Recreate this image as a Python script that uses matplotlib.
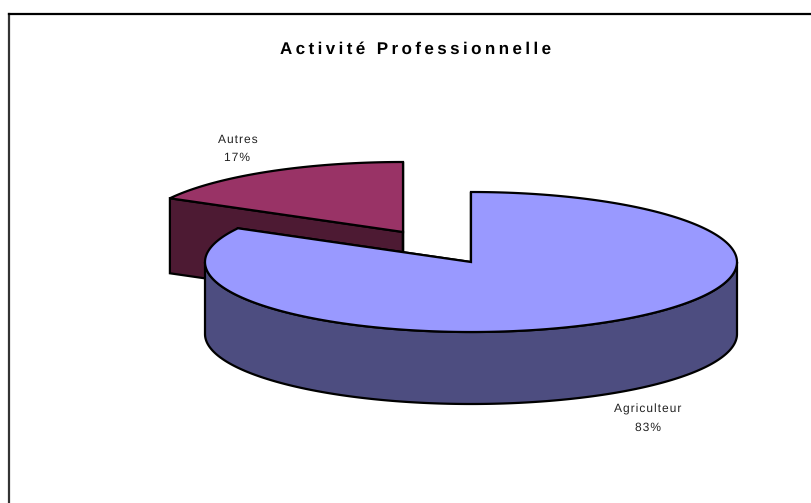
import matplotlib
matplotlib.use('Agg')
import matplotlib.pyplot as plt
from matplotlib.patches import Polygon
import numpy as np

plt.rcParams['text.hinting'] = 'none'
plt.rcParams['text.hinting_factor'] = 1

labels = ['Agriculteur', 'Autres']
values = [83, 17]
percents = ['83%', '17%']
title = 'Activité Professionnelle'

colors_top = ['#9999ff', '#993366']
colors_side = ['#4d4d80', '#4d1a33']

W, H = 811, 503
RX, RY = 266, 70
depths = [72, 75]
# apex of each slice, in pixels
centers = [(471, 262), (403, 232)]


def arc_points(cx, cy, start, end):
    # angles are clockwise from 12 o'clock
    t = np.radians(np.linspace(start, end, 300))
    return np.column_stack([cx + RX*np.sin(t), cy - RY*np.cos(t)])


def draw_slice(ax, center, start, end, depth, top, side, z):
    cx, cy = center
    arc = arc_points(cx, cy, start, end)
    wedge = np.vstack([[cx, cy], arc])
    lw = 1.6

    # cut faces, drawn shifted down by the depth
    for ang in (start, end):
        edge = arc_points(cx, cy, ang, ang)[0]
        face = [(cx, cy), edge, (edge[0], edge[1]+depth), (cx, cy+depth)]
        ax.add_patch(Polygon(face, closed=True, fc=side, ec='black', lw=lw, zorder=z))

    # outer wall, only the part facing the viewer
    t_lo, t_hi = max(start, 90), min(end, 270)
    if t_hi > t_lo:
        wall = arc_points(cx, cy, t_lo, t_hi)
        low = wall[::-1] + [0, depth]
        ax.add_patch(Polygon(np.vstack([wall, low]), closed=True, fc=side, ec='black',
                             lw=lw, zorder=z+1))

    ax.add_patch(Polygon(wedge, closed=True, fc=top, ec='black', lw=lw, zorder=z+2))


def spaced(s, gap):
    # the original chart has wide letter spacing
    return gap.join(s)


fig = plt.figure(figsize=(W/100, H/100), dpi=100)
ax = fig.add_axes([0, 0, 1, 1])
ax.set_xlim(0, W)
ax.set_ylim(H, 0)
ax.axis('off')

# chart frame
ax.plot([8.5, 8.5], [H, 14], color='#333333', lw=1.6, zorder=0)
ax.plot([8.5, W], [14, 14], color='black', lw=1.6, zorder=0)

# angles follow from the values
total = sum(values)
angle = 0
spans = []
for v in values:
    spans.append((angle, angle + 360*v/total))
    angle += 360*v/total

# exploded slice goes behind the main one
draw_slice(ax, centers[1], spans[0][1], spans[1][1], depths[1], colors_top[1], colors_side[1], 2)
draw_slice(ax, centers[0], spans[0][0], spans[0][1], depths[0], colors_top[0], colors_side[0], 6)

font = 'Liberation Sans'
tgap = '\u2009'
lgap = '\u200a'
ax.text(415.5, 49, spaced(title, tgap), ha='center', va='center', fontsize=12.5,
        fontweight='bold', family=font, color='black')
ax.text(238, 140, spaced(labels[1], lgap), ha='center', va='center', fontsize=8.4, family=font, color='#222222')
ax.text(237, 158, spaced(percents[1], lgap), ha='center', va='center', fontsize=8.4, family=font, color='#222222')
ax.text(648, 409, spaced(labels[0], lgap), ha='center', va='center', fontsize=8.4, family=font, color='#222222')
ax.text(648, 428, spaced(percents[0], lgap), ha='center', va='center', fontsize=8.4, family=font, color='#222222')

fig.savefig('out.png', dpi=100)
